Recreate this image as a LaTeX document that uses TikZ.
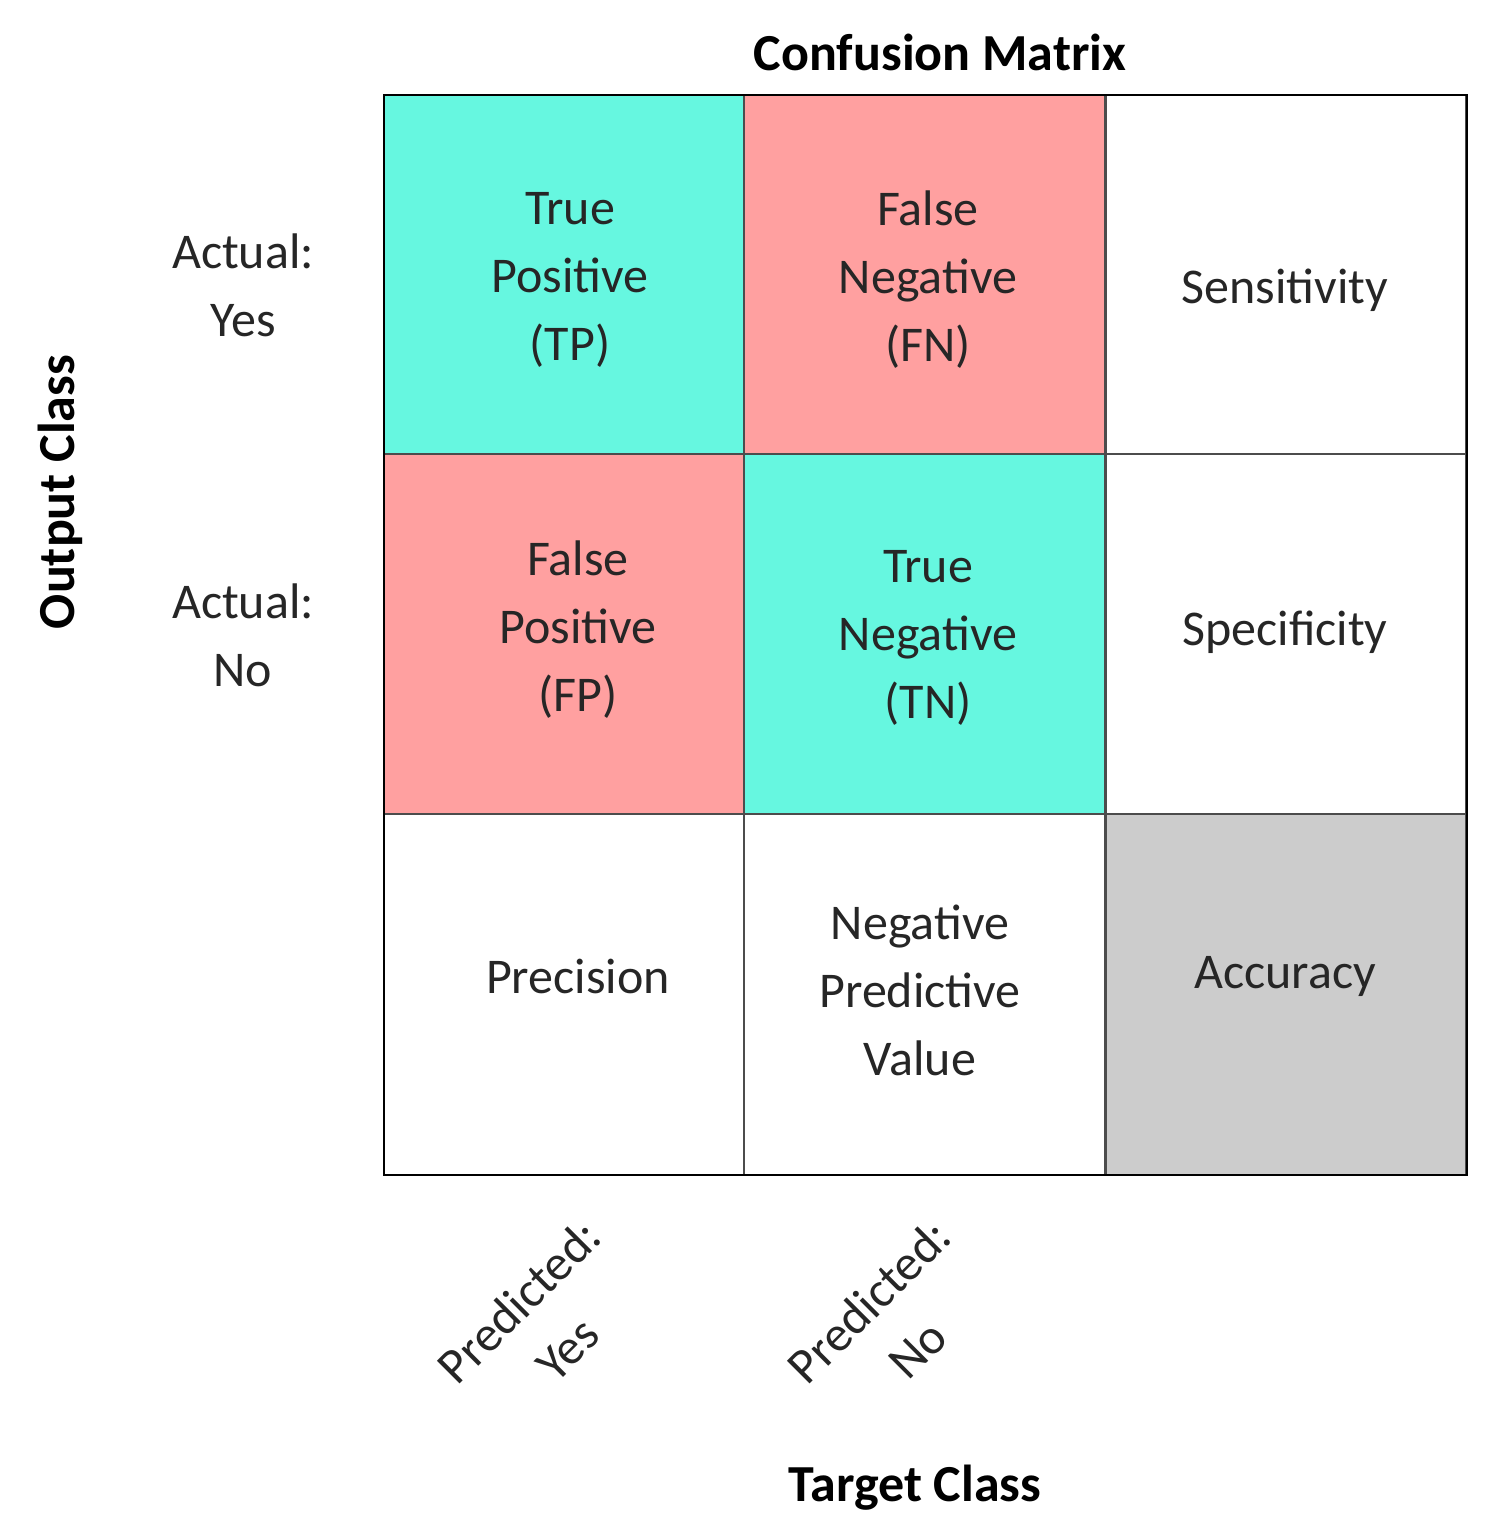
\documentclass[tikz,border=0pt]{standalone}
\usepackage{fontspec}
\setmainfont{Carlito}
\definecolor{tp}{HTML}{66F7E0}
\definecolor{fp}{HTML}{FFA0A0}
\definecolor{acc}{HTML}{CCCCCC}
\begin{document}
\begin{tikzpicture}[x=1pt,y=-1pt,
  cell/.style={draw=black!70,line width=1.2pt,minimum width=360pt,minimum height=360pt,inner sep=0pt},
  txt/.style={font=\fontsize{50}{68}\selectfont,align=center,text=black!85},
  bold/.style={font=\fontsize{52}{60}\selectfont\bfseries}]
\useasboundingbox (0,0) rectangle (1500,1533);
\node[cell,fill=tp] (c11) at (564,274.5) {};
\node[cell,fill=fp] (c12) at (924.5,274.5) {};
\node[cell,fill=white] (c13) at (1286,274.5) {};
\node[cell,fill=fp] (c21) at (564,634) {};
\node[cell,fill=tp] (c22) at (924.5,634) {};
\node[cell,fill=white] (c23) at (1286,634) {};
\node[cell,fill=white] (c31) at (564,994.5) {};
\node[cell,fill=white] (c32) at (924.5,994.5) {};
\node[cell,fill=acc] (c33) at (1286,994.5) {};
\draw[line width=2pt] (384,95) rectangle (1467,1175);
\node[txt] (t11) at (570,280) {True\\Positive\\(TP)};
\node[txt] (t12) at (928,280) {False\\Negative\\(FN)};
\node[txt] (t13) at (1285,290) {Sensitivity};
\node[txt] (t21) at (578,630) {False\\Positive\\(FP)};
\node[txt] (t22) at (928,638) {True\\Negative\\(TN)};
\node[txt] (t23) at (1285,632) {Specificity};
\node[txt] (t31) at (578,976) {Precision};
\node[txt] (t32) at (920,990) {Negative\\Predictive\\Value};
\node[txt] (t33) at (1285,976) {Accuracy};
\node[txt] (ay) at (243,285) {Actual:\\Yes};
\node[txt] (an) at (243,635) {Actual:\\No};
\node[txt,rotate=45] (py) at (543,1325) {Predicted:\\Yes};
\node[txt,rotate=45] (pn) at (893,1325) {Predicted:\\No};
\node[bold] (title) at (940,52) {Confusion Matrix};
\node[bold] (target) at (915,1488) {Target Class};
\node[bold,rotate=90] (output) at (60,492) {Output Class};
\end{tikzpicture}
\end{document}
